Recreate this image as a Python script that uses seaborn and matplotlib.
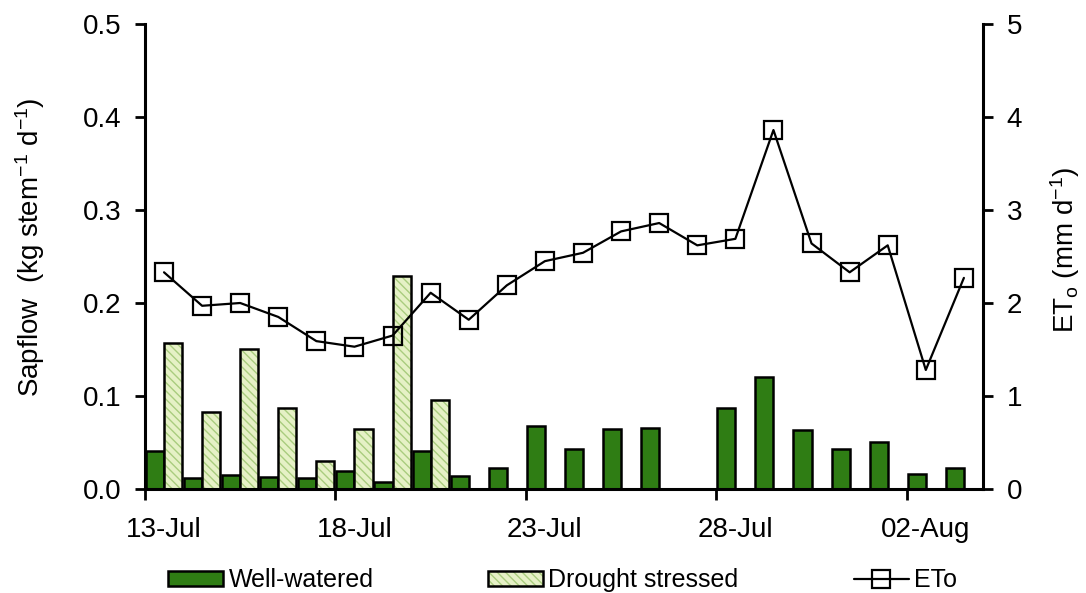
import numpy as np
import pandas as pd
import matplotlib
matplotlib.use("Agg")
import matplotlib.pyplot as plt
import matplotlib.colors as mcolors
from matplotlib.ticker import FormatStrFormatter
import seaborn as sns

# Daily categories
days = ["13-Jul", "14-Jul", "15-Jul", "16-Jul", "17-Jul", "18-Jul", "19-Jul",
        "20-Jul", "21-Jul", "22-Jul", "23-Jul", "24-Jul", "25-Jul", "26-Jul",
        "27-Jul", "28-Jul", "29-Jul", "30-Jul", "31-Jul", "01-Aug", "02-Aug",
        "03-Aug"]
tick_days = ["13-Jul", "18-Jul", "23-Jul", "28-Jul", "02-Aug"]

nan = np.nan
# Sap flow (kg stem-1 d-1)
well_watered = [0.041, 0.012, 0.015, 0.013, 0.012, 0.019, 0.008, 0.041,
                0.014, 0.023, 0.068, 0.043, 0.064, 0.066, nan, 0.087,
                0.120, 0.063, 0.043, 0.050, 0.016, 0.023]
drought_stressed = [0.157, 0.083, 0.150, 0.087, 0.030, 0.065, 0.229, 0.096,
                    nan, nan, nan, nan, nan, nan, nan, nan,
                    nan, nan, nan, nan, nan, nan]
# Reference evapotranspiration (mm d-1)
eto = [2.33, 1.97, 2.00, 1.85, 1.59, 1.53, 1.65, 2.11, 1.82, 2.19, 2.45,
       2.54, 2.77, 2.86, 2.62, 2.69, 3.86, 2.64, 2.33, 2.62, 1.28, 2.27]

treatments = ["Well-watered", "Drought stressed"]
ww_color = "#2f7d14"
ds_color = "#e6f1c6"
hatch_color = "#a9cc7e"

sns.set_style("ticks")
plt.rcParams["font.family"] = ["Liberation Sans", "DejaVu Sans"]
plt.rcParams["mathtext.fontset"] = "custom"
plt.rcParams["mathtext.rm"] = "Liberation Sans"
plt.rcParams["mathtext.it"] = "Liberation Sans:italic"
plt.rcParams["mathtext.bf"] = "Liberation Sans:bold"
plt.rcParams["hatch.linewidth"] = 1.0
for key in ("text.color", "axes.labelcolor", "xtick.color", "ytick.color",
            "axes.edgecolor"):
    plt.rcParams[key] = "black"

n = len(days)
sap = pd.DataFrame({
    "day": days * 2,
    "treatment": [treatments[0]] * n + [treatments[1]] * n,
    "sapflow": well_watered + drought_stressed,
}).dropna()

fig = plt.figure(figsize=(10.86, 5.93), dpi=100)
ax = fig.add_axes([0.1335, 0.1754, 0.7716, 0.7841])

sns.barplot(data=sap, x="day", y="sapflow", hue="treatment", order=days,
            hue_order=treatments, palette=[ww_color, ds_color], saturation=1,
            width=0.95, errorbar=None, edgecolor="black", linewidth=1.8,
            legend=False, ax=ax)

# hatch the drought-stressed bars with a light green pattern
for p in ax.containers[1].patches:
    p.set_hatch("\\\\\\\\")
    p._hatch_color = mcolors.to_rgba(hatch_color)

ax2 = ax.twinx()
sns.lineplot(x=np.arange(n), y=eto, ax=ax2, color="black", linewidth=1.6,
             marker="s", markersize=13, markerfacecolor="none",
             markeredgecolor="black", markeredgewidth=1.6)

ax.set_xlim(-0.5, n - 0.5)
ax.set_ylim(0, 0.5)
ax2.set_ylim(0, 5)

# axis styling
for a in (ax, ax2):
    a.spines["top"].set_visible(False)
    for s in a.spines.values():
        s.set_linewidth(2.2)
        s.set_color("black")
ax.spines["right"].set_visible(False)
ax2.spines["left"].set_visible(False)
ax2.spines["bottom"].set_visible(False)

ax.set_yticks(np.arange(0, 0.51, 0.1))
ax.yaxis.set_major_formatter(FormatStrFormatter("%.1f"))
ax.tick_params(axis="y", direction="out", length=7, width=2, pad=10,
               labelsize=20)
ax2.set_yticks(range(0, 6))
ax2.tick_params(axis="y", direction="out", length=7, width=2, pad=10,
                labelsize=20)

ax.set_xticks([days.index(d) for d in tick_days])
ax.set_xticklabels(tick_days)
ax.set_xticks([days.index(d) - 0.5 for d in tick_days], minor=True)
ax.tick_params(axis="x", which="major", length=0, pad=20, labelsize=20)
ax.tick_params(axis="x", which="minor", direction="out", length=8, width=2)

ax.set_xlabel("")
ax.set_ylabel(r"Sapflow  (kg stem$^{\mathregular{-1}}$ d$^{\mathregular{-1}}$)",
              fontsize=20)
ax.yaxis.set_label_coords(-0.117, 0.52)
ax2.set_ylabel(r"ET$_{\mathregular{o}}$ (mm d$^{\mathregular{-1}}$)",
               fontsize=20)
ax2.yaxis.set_label_coords(1.078, 0.515)

handles = [ax.containers[0].patches[0], ax.containers[1].patches[0],
           ax2.lines[0]]
fig.legend(handles, ["Well-watered", "Drought stressed", "ETo"],
           loc="center", bbox_to_anchor=(0.518, 0.022), ncol=3,
           frameon=False, fontsize=18, handlelength=2.2, handleheight=0.55,
           handletextpad=0.2, columnspacing=4.6, borderpad=0.1)

fig.savefig("out.png", dpi=100)
